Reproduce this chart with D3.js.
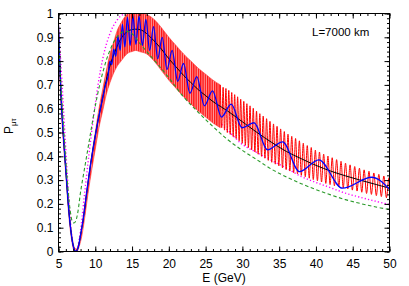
<!DOCTYPE html>
<html><head><meta charset="utf-8">
<script src="https://cdn.jsdelivr.net/npm/d3@7"></script>
<style>
body{margin:0;background:#fff;}
svg{display:block;font-family:"Liberation Sans",Arial,sans-serif;}
</style></head>
<body><svg id="c" width="409" height="286"></svg>
<script>
// ---- data ----
const xTicks = [5,10,15,20,25,30,35,40,45,50];
const yTicks = [0,0.1,0.2,0.3,0.4,0.5,0.6,0.7,0.8,0.9,1];
const yTickLabels = ["0","0.1","0.2","0.3","0.4","0.5","0.6","0.7","0.8","0.9","1"];
const xLabel = "E (GeV)";
const baselineText = "L=7000 km";

const blackE = [5,5.2,5.4,5.7,6.0,6.3,6.6,6.9,7.2,7.4,7.7,8.0,8.35,8.8,9.25,9.9,10.5,11,11.6,12.2,12.8,13.4,14,14.7,15.5,16.3,17,18,19,20,21,22,23,24,25,26,27,28,29,30,32,34,36,38,40,42,44,46,48,50];
const blackP = [0.93,0.76,0.62,0.47,0.34,0.21,0.11,0.04,0.005,0,0.02,0.07,0.134,0.24,0.343,0.469,0.57,0.644,0.735,0.8,0.85,0.89,0.915,0.93,0.934,0.93,0.915,0.885,0.85,0.81,0.775,0.74,0.71,0.68,0.655,0.63,0.61,0.59,0.568,0.545,0.5,0.458,0.42,0.39,0.362,0.338,0.318,0.3,0.283,0.266];

const blueE = [5,5.2,5.4,5.7,6.0,6.3,6.6,6.9,7.2,7.4,7.7,8.0,8.35,8.8,9.25,9.9,10.5,11,11.4,11.75,11.99,12.25,12.51,12.79,13.07,13.38,13.69,14.02,14.37,14.74,15.12,15.52,15.95,16.40,16.88,17.39,17.92,18.49,19.10,19.75,20.45,21.20,22.0,22.87,23.8,24.83,25.94,27.15,28.47,29.96,31.58,33.41,35.46,37.76,40.39,43.6,47.6,50];
const blueP = [0.95,0.77,0.62,0.47,0.34,0.21,0.11,0.04,0.005,0,0.02,0.07,0.134,0.24,0.343,0.469,0.57,0.644,0.70,0.74,0.80,0.785,0.85,0.82,0.905,0.845,0.955,0.86,0.985,0.865,0.99,0.87,0.99,0.865,0.975,0.845,0.945,0.81,0.9,0.765,0.845,0.715,0.79,0.665,0.735,0.612,0.675,0.565,0.619,0.52,0.541,0.427,0.461,0.336,0.385,0.266,0.312,0.262];

// dense (unresolved) part of the fast red oscillation: envelope
const redBandE = [5,5.3,5.7,6.0,6.4,6.8,7.2,7.5,7.8,8.2,8.6,9.0,9.5,10,10.5,11,11.5,12,12.5,13,13.5,14,14.5,15,15.5,16,17,18,19,20,21,22,23,24,25,26,27];
const redHi = [0.97,0.72,0.49,0.36,0.19,0.07,0.015,0.01,0.04,0.1,0.2,0.29,0.40,0.5,0.6,0.68,0.76,0.83,0.88,0.93,0.96,0.985,1.0,1.0,1.0,1.0,0.995,0.975,0.94,0.9,0.865,0.83,0.8,0.77,0.745,0.72,0.70];
const redLo = [0.9,0.64,0.44,0.32,0.15,0.045,0,0,0.02,0.07,0.15,0.24,0.34,0.43,0.52,0.59,0.66,0.71,0.75,0.78,0.8,0.82,0.835,0.84,0.845,0.84,0.83,0.8,0.76,0.72,0.685,0.65,0.62,0.59,0.565,0.54,0.52];
// resolved part: successive maxima / minima
const redE = [27.00,27.19,27.38,27.57,27.76,27.95,28.15,28.35,28.55,28.75,28.95,29.15,29.35,29.56,29.77,29.98,30.19,30.40,30.61,30.82,31.04,31.26,31.48,31.70,31.92,32.14,32.37,32.60,32.83,33.06,33.29,33.52,33.75,33.99,34.23,34.47,34.71,34.95,35.20,35.45,35.70,35.95,36.20,36.45,36.71,36.97,37.23,37.49,37.75,38.01,38.28,38.55,38.82,39.09,39.36,39.64,39.92,40.20,40.48,40.76,41.05,41.34,41.63,41.92,42.21,42.51,42.81,43.11,43.41,43.71,44.02,44.33,44.64,44.95,45.27,45.59,45.91,46.23,46.55,46.88,47.21,47.54,47.87,48.21,48.55,48.89,49.23,49.58,49.93,50];
const redP = [0.70,0.52,0.69,0.51,0.685,0.50,0.677,0.492,0.668,0.483,0.659,0.475,0.65,0.465,0.64,0.455,0.631,0.446,0.621,0.437,0.612,0.427,0.602,0.418,0.59,0.409,0.579,0.40,0.569,0.392,0.558,0.383,0.547,0.375,0.536,0.367,0.526,0.36,0.515,0.351,0.504,0.344,0.493,0.338,0.484,0.331,0.475,0.326,0.465,0.32,0.455,0.314,0.445,0.308,0.437,0.302,0.426,0.297,0.418,0.292,0.409,0.286,0.401,0.281,0.394,0.276,0.386,0.272,0.379,0.267,0.371,0.263,0.364,0.258,0.357,0.254,0.35,0.249,0.343,0.244,0.337,0.24,0.33,0.235,0.324,0.231,0.317,0.226,0.31,0.30];

const greenE = [5,5.3,5.7,6.0,6.3,6.6,6.9,7.1,7.3,7.6,8.0,8.6,9.1,9.7,10.3,11,11.8,12.8,13.6,14.3,15,16.1,17,18.4,20,22,24,26,28,30,32,34,36,38,40,42,44,46,48,50];
const greenP = [0.9,0.72,0.52,0.38,0.26,0.17,0.125,0.12,0.125,0.16,0.25,0.36,0.45,0.56,0.658,0.75,0.83,0.895,0.92,0.925,0.915,0.873,0.84,0.79,0.73,0.65,0.585,0.525,0.47,0.425,0.385,0.345,0.313,0.285,0.26,0.238,0.218,0.202,0.188,0.176];

const magE = [5,5.3,5.6,5.9,6.2,6.5,6.8,7.1,7.3,7.6,8.0,8.5,9.0,9.5,10,10.7,11.5,12.5,13.5,14.3,15,16,17,18,19,20,22,24,26,28,30,32,34,36,38,40,42,44,46,48,50];
const magP = [0.93,0.8,0.64,0.48,0.32,0.18,0.07,0.01,0,0.02,0.09,0.23,0.37,0.5,0.62,0.76,0.87,0.95,0.99,1.0,0.995,0.975,0.94,0.9,0.855,0.81,0.72,0.64,0.57,0.51,0.45,0.415,0.382,0.35,0.315,0.29,0.268,0.245,0.228,0.212,0.197];

// ---- drawing ----
const svg = d3.select("#c");
const x = d3.scaleLinear().domain([5,50]).range([58.5,389.5]);
const y = d3.scaleLinear().domain([0,1]).range([251.5,13.5]);
const fs = 12;

const defs = svg.append("defs");
defs.append("clipPath").attr("id","pc")
  .append("rect").attr("x",58.5).attr("y",13.5).attr("width",331).attr("height",238);
// hatched look of the unresolved fast oscillation
const pat = defs.append("pattern").attr("id","hatch").attr("patternUnits","userSpaceOnUse")
  .attr("width",2.3).attr("height",10);
pat.append("rect").attr("width",2.3).attr("height",10).attr("fill","#ff9a9a");
pat.append("rect").attr("width",1.3).attr("height",10).attr("fill","#ff1010");

const plot = svg.append("g").attr("clip-path","url(#pc)");

const zipped = (E,P)=>E.map((e,i)=>[e,P[i]]);
const lineSmooth = d3.line().x(d=>x(d[0])).y(d=>y(d[1])).curve(d3.curveCatmullRom.alpha(0.5));
const lineOsc = d3.line().x(d=>x(d[0])).y(d=>y(d[1])).curve(d3.curveMonotoneX);

// magenta dotted (underneath)
plot.append("path").attr("d",lineSmooth(zipped(magE,magP)))
  .attr("fill","none").attr("stroke","#ff00ff").attr("stroke-width",1.4)
  .attr("stroke-dasharray","1.2,2.2");

// red band
const band = d3.area().x((d,i)=>x(redBandE[i])).y0((d,i)=>y(redLo[i])).y1((d,i)=>y(redHi[i])).curve(d3.curveMonotoneX);
plot.append("path").attr("d",band(redBandE)).attr("fill","url(#hatch)").attr("stroke","#ff3030").attr("stroke-width",0.6);
plot.append("path").attr("d",lineOsc(zipped(redE,redP)))
  .attr("fill","none").attr("stroke","#ff0000").attr("stroke-width",1);

// black average
plot.append("path").attr("d",lineSmooth(zipped(blackE,blackP)))
  .attr("fill","none").attr("stroke","#000").attr("stroke-width",1);

// blue
plot.append("path").attr("d",lineOsc(zipped(blueE,blueP)))
  .attr("fill","none").attr("stroke","#0000ff").attr("stroke-width",1.3);

// green dashed
plot.append("path").attr("d",lineSmooth(zipped(greenE,greenP)))
  .attr("fill","none").attr("stroke","#2a9a2a").attr("stroke-width",1.1)
  .attr("stroke-dasharray","3.5,2.5");

// ---- axes ----
const xMinor = d3.range(5,51,1);
const yMinor = d3.range(0,1.0001,0.02);
function styleAxis(g){ g.select(".domain").remove(); g.selectAll("line").attr("stroke","#000"); g.selectAll("text").attr("font-size",fs).attr("fill","#000").attr("font-family","Liberation Sans, Arial, sans-serif"); }

svg.append("g").attr("transform","translate(0,251.5)")
  .call(d3.axisBottom(x).tickValues(xMinor).tickSizeInner(-2.5).tickSizeOuter(0).tickFormat(""))
  .call(styleAxis);
svg.append("g").attr("transform","translate(0,251.5)")
  .call(d3.axisBottom(x).tickValues(xTicks).tickSizeInner(-5).tickSizeOuter(0).tickPadding(8).tickFormat(d3.format("d")))
  .call(styleAxis);
svg.append("g").attr("transform","translate(0,13.5)")
  .call(d3.axisTop(x).tickValues(xMinor).tickSizeInner(-2.5).tickSizeOuter(0).tickFormat(""))
  .call(styleAxis);
svg.append("g").attr("transform","translate(0,13.5)")
  .call(d3.axisTop(x).tickValues(xTicks).tickSizeInner(-5).tickSizeOuter(0).tickFormat(""))
  .call(styleAxis);

svg.append("g").attr("transform","translate(58.5,0)")
  .call(d3.axisLeft(y).tickValues(yMinor).tickSizeInner(-2.5).tickSizeOuter(0).tickFormat(""))
  .call(styleAxis);
svg.append("g").attr("transform","translate(58.5,0)")
  .call(d3.axisLeft(y).tickValues(yTicks).tickSizeInner(-5).tickSizeOuter(0).tickPadding(5).tickFormat((d,i)=>yTickLabels[i]))
  .call(styleAxis);
svg.append("g").attr("transform","translate(389.5,0)")
  .call(d3.axisRight(y).tickValues(yMinor).tickSizeInner(-2.5).tickSizeOuter(0).tickFormat(""))
  .call(styleAxis);
svg.append("g").attr("transform","translate(389.5,0)")
  .call(d3.axisRight(y).tickValues(yTicks).tickSizeInner(-5).tickSizeOuter(0).tickFormat(""))
  .call(styleAxis);

svg.append("rect").attr("x",58.5).attr("y",13.5).attr("width",331).attr("height",238)
  .attr("fill","none").attr("stroke","#000").attr("stroke-width",1);

// labels
svg.append("text").attr("x",(58.5+389.5)/2).attr("y",282).attr("text-anchor","middle")
  .attr("font-size",fs).text(xLabel);
const yl = svg.append("text").attr("transform","translate(13,134) rotate(-90)").attr("font-size",12);
yl.append("tspan").text("P");
yl.append("tspan").attr("dy",3).attr("font-size",8).text("μτ");
svg.append("text").attr("x",312).attr("y",36).attr("font-size",11.5).text(baselineText);
</script></body></html>
